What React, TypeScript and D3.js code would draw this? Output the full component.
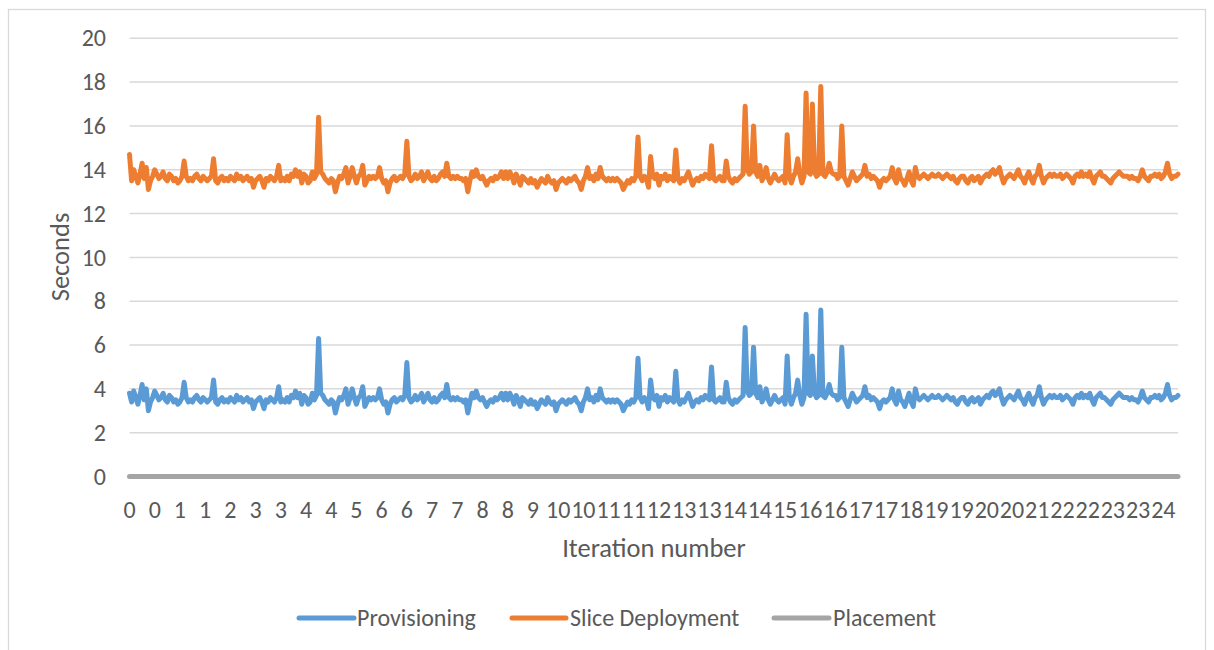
import React from "react";
import * as d3 from "d3";

const provisioning: number[] = [
  3.8,3.4,3.9,3.6,3.3,3.7,4.2,3.5,4.0,3.0,3.4,3.6,3.9,3.7,3.5,3.6,3.8,3.5,3.4,3.7,
  3.6,3.4,3.5,3.3,3.4,3.6,4.3,3.6,3.4,3.5,3.4,3.6,3.7,3.5,3.4,3.6,3.5,3.4,3.5,3.6,
  4.4,3.4,3.3,3.5,3.6,3.4,3.5,3.4,3.6,3.5,3.4,3.7,3.5,3.6,3.4,3.5,3.6,3.4,3.5,3.1,
  3.4,3.5,3.6,3.4,3.1,3.5,3.4,3.6,3.5,3.4,3.6,4.1,3.4,3.5,3.4,3.6,3.4,3.7,3.6,3.9,
  3.6,3.8,3.3,3.7,3.6,3.3,3.4,3.8,3.5,3.7,6.3,3.8,3.7,3.5,3.4,3.3,3.5,3.4,2.9,3.3,
  3.6,3.5,3.7,4.0,3.3,3.6,4.0,3.6,3.3,3.6,3.7,4.1,3.2,3.4,3.6,3.5,3.6,3.5,3.6,4.0,
  3.5,3.3,3.4,2.9,3.3,3.5,3.6,3.4,3.5,3.6,3.5,3.7,5.2,3.6,3.4,3.5,3.7,3.5,3.6,3.8,
  3.4,3.6,3.8,3.5,3.4,3.6,3.4,3.5,3.7,3.8,3.6,4.2,3.6,3.5,3.6,3.5,3.6,3.5,3.5,3.4,
  3.5,2.9,3.4,3.8,3.6,3.9,3.6,3.5,3.6,3.4,3.2,3.4,3.5,3.4,3.6,3.5,3.6,3.8,3.5,3.8,
  3.5,3.8,3.6,3.3,3.7,3.5,3.2,3.6,3.5,3.4,3.3,3.5,3.3,3.4,3.1,3.3,3.5,3.4,3.3,3.6,
  3.4,3.3,3.4,3.0,3.3,3.4,3.5,3.4,3.3,3.5,3.4,3.5,3.6,3.4,3.3,3.0,3.4,3.6,4.0,3.5,
  3.6,3.4,3.7,3.5,4.0,3.6,3.5,3.4,3.5,3.4,3.5,3.4,3.5,3.4,3.3,3.0,3.2,3.4,3.3,3.5,
  3.4,3.6,5.4,3.6,3.4,3.6,3.5,3.1,4.4,3.6,3.5,3.7,3.2,3.6,3.5,3.7,3.4,3.6,3.5,3.4,
  4.8,3.5,3.3,3.5,3.4,3.6,3.8,3.5,3.2,3.4,3.5,3.4,3.6,3.5,3.7,3.6,3.5,5.0,3.5,3.4,
  3.5,3.6,3.4,3.4,4.3,3.6,3.4,3.3,3.5,3.4,3.5,3.6,3.7,6.8,3.9,3.7,3.8,5.9,3.8,3.6,
  4.1,3.4,3.6,4.0,3.5,3.3,3.5,3.7,3.5,3.4,3.5,3.6,3.3,5.5,3.6,3.3,3.6,3.8,4.4,3.7,
  3.3,3.6,7.4,3.8,3.7,5.5,3.8,3.6,3.7,7.6,3.7,3.6,3.8,4.2,3.8,3.7,3.7,3.5,3.6,5.9,
  3.6,3.4,3.2,3.5,3.8,3.6,3.4,3.5,3.6,3.7,4.1,3.6,3.7,3.5,3.6,3.5,3.4,3.1,3.4,3.5,
  3.4,3.5,3.6,4.0,3.5,3.3,3.9,3.5,3.4,3.2,3.5,3.8,3.4,3.2,4.0,3.6,3.5,3.6,3.7,3.6,
  3.5,3.6,3.7,3.6,3.6,3.7,3.6,3.5,3.6,3.7,3.6,3.5,3.6,3.4,3.3,3.5,3.6,3.6,3.4,3.3,
  3.5,3.6,3.4,3.5,3.6,3.3,3.5,3.6,3.7,3.6,3.8,3.9,3.7,3.8,4.0,3.6,3.3,3.5,3.6,3.7,
  3.6,3.5,3.7,3.9,3.6,3.5,3.3,3.6,3.8,3.5,3.3,3.6,3.7,4.1,3.6,3.3,3.5,3.6,3.7,3.6,
  3.7,3.6,3.6,3.7,3.5,3.6,3.7,3.6,3.5,3.3,3.6,3.7,3.6,3.8,3.6,3.7,3.6,3.8,3.5,3.3,
  3.6,3.7,3.8,3.6,3.6,3.5,3.4,3.3,3.5,3.6,3.7,3.8,3.7,3.6,3.6,3.6,3.5,3.6,3.5,3.5,
  3.4,3.6,3.9,3.6,3.5,3.4,3.6,3.6,3.7,3.6,3.7,3.5,3.6,3.8,4.2,3.7,3.5,3.6,3.6,3.7,
];

const sliceDeployment: number[] = [
  14.7,13.5,14.0,13.7,13.4,13.8,14.3,13.6,14.1,13.1,13.5,13.7,14.0,13.8,13.6,13.7,13.9,13.6,13.5,13.8,
  13.7,13.5,13.6,13.4,13.5,13.7,14.4,13.7,13.5,13.6,13.5,13.7,13.8,13.6,13.5,13.7,13.6,13.5,13.6,13.7,
  14.5,13.5,13.4,13.6,13.7,13.5,13.6,13.5,13.7,13.6,13.5,13.8,13.6,13.7,13.5,13.6,13.7,13.5,13.6,13.2,
  13.5,13.6,13.7,13.5,13.2,13.6,13.5,13.7,13.6,13.5,13.7,14.2,13.5,13.6,13.5,13.7,13.5,13.8,13.7,14.0,
  13.7,13.9,13.4,13.8,13.7,13.4,13.5,13.9,13.6,13.8,16.4,13.9,13.8,13.6,13.5,13.4,13.6,13.5,13.0,13.4,
  13.7,13.6,13.8,14.1,13.4,13.7,14.1,13.7,13.4,13.7,13.8,14.2,13.3,13.5,13.7,13.6,13.7,13.6,13.7,14.1,
  13.6,13.4,13.5,13.0,13.4,13.6,13.7,13.5,13.6,13.7,13.6,13.8,15.3,13.7,13.5,13.6,13.8,13.6,13.7,13.9,
  13.5,13.7,13.9,13.6,13.5,13.7,13.5,13.6,13.8,13.9,13.7,14.3,13.7,13.6,13.7,13.6,13.7,13.6,13.6,13.5,
  13.6,13.0,13.5,13.9,13.7,14.0,13.7,13.6,13.7,13.5,13.3,13.5,13.6,13.5,13.7,13.6,13.7,13.9,13.6,13.9,
  13.6,13.9,13.7,13.4,13.8,13.6,13.3,13.7,13.6,13.5,13.4,13.6,13.4,13.5,13.2,13.4,13.6,13.5,13.4,13.7,
  13.5,13.4,13.5,13.1,13.4,13.5,13.6,13.5,13.4,13.6,13.5,13.6,13.7,13.5,13.4,13.1,13.5,13.7,14.1,13.6,
  13.7,13.5,13.8,13.6,14.1,13.7,13.6,13.5,13.6,13.5,13.6,13.5,13.6,13.5,13.4,13.1,13.3,13.5,13.4,13.6,
  13.5,13.7,15.5,13.7,13.5,13.7,13.6,13.2,14.6,13.7,13.6,13.8,13.3,13.7,13.6,13.8,13.5,13.7,13.6,13.5,
  14.9,13.6,13.4,13.6,13.5,13.7,13.9,13.6,13.3,13.5,13.6,13.5,13.7,13.6,13.8,13.7,13.6,15.1,13.6,13.5,
  13.6,13.7,13.5,13.5,14.4,13.7,13.5,13.4,13.6,13.5,13.6,13.7,13.8,16.9,14.0,13.8,13.9,16.0,13.9,13.7,
  14.2,13.5,13.7,14.1,13.6,13.4,13.6,13.8,13.6,13.5,13.6,13.7,13.4,15.6,13.7,13.4,13.7,13.9,14.5,13.8,
  13.4,13.7,17.5,13.9,13.8,17.0,13.9,13.7,13.8,17.8,13.8,13.7,13.9,14.3,13.9,13.8,13.8,13.6,13.7,16.0,
  13.7,13.5,13.3,13.6,13.9,13.7,13.5,13.6,13.7,13.8,14.2,13.7,13.8,13.6,13.7,13.6,13.5,13.2,13.5,13.6,
  13.5,13.6,13.7,14.1,13.6,13.4,14.0,13.6,13.5,13.3,13.6,13.9,13.5,13.3,14.1,13.7,13.6,13.7,13.8,13.7,
  13.6,13.7,13.8,13.7,13.7,13.8,13.7,13.6,13.7,13.8,13.7,13.6,13.7,13.5,13.4,13.6,13.7,13.7,13.5,13.4,
  13.6,13.7,13.5,13.6,13.7,13.4,13.6,13.7,13.8,13.7,13.9,14.0,13.8,13.9,14.1,13.7,13.4,13.6,13.7,13.8,
  13.7,13.6,13.8,14.0,13.7,13.6,13.4,13.7,13.9,13.6,13.4,13.7,13.8,14.2,13.7,13.4,13.6,13.7,13.8,13.7,
  13.8,13.7,13.7,13.8,13.6,13.7,13.8,13.7,13.6,13.4,13.7,13.8,13.7,13.9,13.7,13.8,13.7,13.9,13.6,13.4,
  13.7,13.8,13.9,13.7,13.7,13.6,13.5,13.4,13.6,13.7,13.8,13.9,13.8,13.7,13.7,13.7,13.6,13.7,13.6,13.6,
  13.5,13.7,14.0,13.7,13.6,13.5,13.7,13.7,13.8,13.7,13.8,13.6,13.7,13.9,14.3,13.8,13.6,13.7,13.7,13.8,
];

const placement: number[] = [
  0,0,0,0,0,0,0,0,0,0,0,0,0,0,0,0,0,0,0,0, 0,0,0,0,0,0,0,0,0,0,0,0,0,0,0,0,0,0,0,0,
  0,0,0,0,0,0,0,0,0,0,0,0,0,0,0,0,0,0,0,0, 0,0,0,0,0,0,0,0,0,0,0,0,0,0,0,0,0,0,0,0,
  0,0,0,0,0,0,0,0,0,0,0,0,0,0,0,0,0,0,0,0, 0,0,0,0,0,0,0,0,0,0,0,0,0,0,0,0,0,0,0,0,
  0,0,0,0,0,0,0,0,0,0,0,0,0,0,0,0,0,0,0,0, 0,0,0,0,0,0,0,0,0,0,0,0,0,0,0,0,0,0,0,0,
  0,0,0,0,0,0,0,0,0,0,0,0,0,0,0,0,0,0,0,0, 0,0,0,0,0,0,0,0,0,0,0,0,0,0,0,0,0,0,0,0,
  0,0,0,0,0,0,0,0,0,0,0,0,0,0,0,0,0,0,0,0, 0,0,0,0,0,0,0,0,0,0,0,0,0,0,0,0,0,0,0,0,
  0,0,0,0,0,0,0,0,0,0,0,0,0,0,0,0,0,0,0,0, 0,0,0,0,0,0,0,0,0,0,0,0,0,0,0,0,0,0,0,0,
  0,0,0,0,0,0,0,0,0,0,0,0,0,0,0,0,0,0,0,0, 0,0,0,0,0,0,0,0,0,0,0,0,0,0,0,0,0,0,0,0,
  0,0,0,0,0,0,0,0,0,0,0,0,0,0,0,0,0,0,0,0, 0,0,0,0,0,0,0,0,0,0,0,0,0,0,0,0,0,0,0,0,
  0,0,0,0,0,0,0,0,0,0,0,0,0,0,0,0,0,0,0,0, 0,0,0,0,0,0,0,0,0,0,0,0,0,0,0,0,0,0,0,0,
  0,0,0,0,0,0,0,0,0,0,0,0,0,0,0,0,0,0,0,0, 0,0,0,0,0,0,0,0,0,0,0,0,0,0,0,0,0,0,0,0,
  0,0,0,0,0,0,0,0,0,0,0,0,0,0,0,0,0,0,0,0, 0,0,0,0,0,0,0,0,0,0,0,0,0,0,0,0,0,0,0,0,
  0,0,0,0,0,0,0,0,0,0,0,0,0,0,0,0,0,0,0,0,
];

const xTickLabels: string[] = [
  "0","0","1","1","2","3","3","4","4","5","6","6","7","7","8","8","9","10","10","11","11",
  "12","13","13","14","14","15","16","16","17","17","18","19","19","20","20","21","22","22","23","23","24",
];
const labelEvery = 12;
const yTicks: number[] = [0, 2, 4, 6, 8, 10, 12, 14, 16, 18, 20];

const seriesNames = ["Provisioning", "Slice Deployment", "Placement"];
const seriesColors = ["#5b9bd5", "#ed7d31", "#a5a5a5"];

const FONT = "Carlito, Calibri, Lato, 'Open Sans', sans-serif";
const TXT = "#595959";

export default function App() {
  const W = 1214, H = 650;
  const left = 129.5, right = 1178, top = 38.3, bottom = 476.5;
  const n = provisioning.length;
  const x = d3.scaleLinear().domain([0, n - 1]).range([left, right]);
  const y = d3.scaleLinear().domain([0, 20]).range([bottom, top]);
  const line = d3.line<number>().x((_, i) => x(i)).y((v) => y(v));
  const data = [provisioning, sliceDeployment, placement];

  const legendItems = [
    { x1: 299, x2: 354, tx: 357 },
    { x1: 512, x2: 566, tx: 570 },
    { x1: 774, x2: 829, tx: 833 },
  ];

  return (
    <svg width={W} height={H} style={{ position: "absolute", left: 0, top: 0 }} fontFamily={FONT}>
      <rect x={0} y={0} width={W} height={H} fill="#fff" />
      <rect x={8.5} y={9.5} width={1197} height={660} fill="#fff" stroke="#d9d9d9" strokeWidth={1.3} />
      {yTicks.map((t) => (
        <g key={t}>
          <line x1={left} x2={right} y1={y(t)} y2={y(t)} stroke="#d9d9d9" strokeWidth={1.5} />
          <text x={106} y={y(t)} dy="0.34em" textAnchor="end" fontSize={24} fill={TXT}>{t}</text>
        </g>
      ))}
      {xTickLabels.map((lab, k) => (
        <text key={k} x={x(k * labelEvery)} y={518} textAnchor="middle" fontSize={24} fill={TXT}>{lab}</text>
      ))}
      {data.map((s, j) => (
        <path key={j} d={line(s) || ""} fill="none" stroke={seriesColors[j]} strokeWidth={5}
          strokeLinejoin="round" strokeLinecap="round" />
      ))}
      <text transform={`translate(69,257) rotate(-90)`} textAnchor="middle" fontSize={26.5} fill={TXT}>Seconds</text>
      <text x={654} y={557} textAnchor="middle" fontSize={26.5} fill={TXT}>Iteration number</text>
      {legendItems.map((it, j) => (
        <g key={j}>
          <line x1={it.x1} x2={it.x2} y1={618} y2={618} stroke={seriesColors[j]} strokeWidth={5} strokeLinecap="round" />
          <text x={it.tx} y={618} dy="0.34em" fontSize={24} fill={TXT}>{seriesNames[j]}</text>
        </g>
      ))}
    </svg>
  );
}
